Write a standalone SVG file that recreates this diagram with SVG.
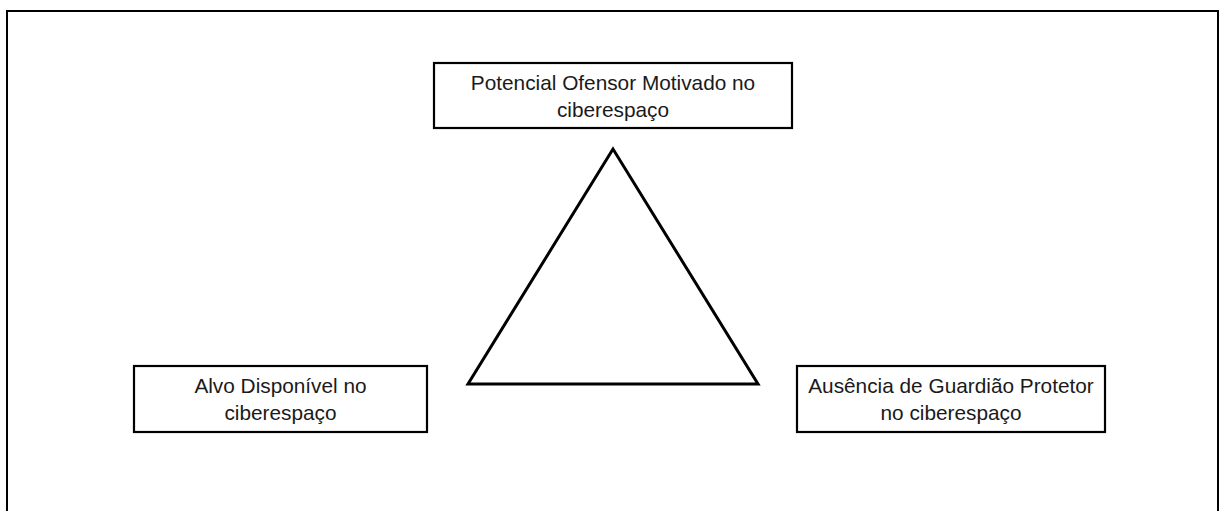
<svg xmlns="http://www.w3.org/2000/svg" width="1219" height="511" viewBox="0 0 1219 511">
<style>
.box{fill:#fff;stroke:#000;stroke-width:2.2}
.t{font-family:"Liberation Sans",Arial,sans-serif;font-size:20.8px;fill:#1a1a1a;text-anchor:middle}
</style>
<rect x="0" y="0" width="1219" height="511" fill="#fff"/>
<rect id="frame" x="7" y="11" width="1211" height="520" fill="none" stroke="#000" stroke-width="2"/>
<g id="connectors">
<polygon points="613,149 468,384 758,384" fill="none" stroke="#000" stroke-width="3" stroke-linejoin="miter"/>
</g>
<g id="node-ofensor">
<rect class="box" x="434" y="63" width="358" height="65"/>
<text class="t" x="613" y="90">Potencial Ofensor Motivado no</text>
<text class="t" x="613" y="117">ciberespaço</text>
</g>
<g id="node-alvo">
<rect class="box" x="134" y="366" width="293" height="66"/>
<text class="t" x="280.5" y="393">Alvo Disponível no</text>
<text class="t" x="280.5" y="420">ciberespaço</text>
</g>
<g id="node-guardiao">
<rect class="box" x="797" y="366" width="308" height="66"/>
<text class="t" x="951" y="393">Ausência de Guardião Protetor</text>
<text class="t" x="951" y="420">no ciberespaço</text>
</g>
</svg>
